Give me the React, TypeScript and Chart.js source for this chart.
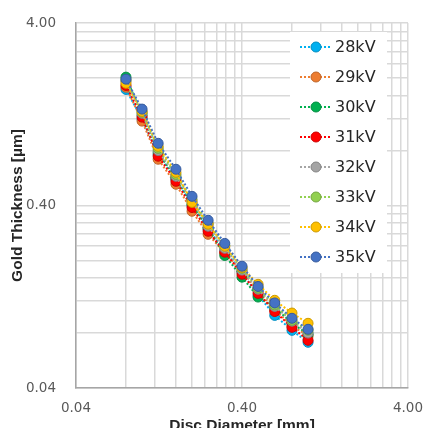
import React, { useEffect, useRef } from "react";
import { Chart, registerables } from "chart.js";

Chart.register(...registerables);

// Disc diameter [mm]
const diameters = [0.08, 0.1, 0.125, 0.16, 0.2, 0.25, 0.315, 0.4, 0.5, 0.63, 0.8, 1.0];

const seriesLabels = ["28kV", "29kV", "30kV", "31kV", "32kV", "33kV", "34kV", "35kV"];
const seriesColors = ["#00B0F0", "#ED7D31", "#00B050", "#FF0000", "#A5A5A5", "#92D050", "#FFC000", "#4472C4"];

// Gold thickness [µm]
const kv28 = [1.73, 1.19, 0.76, 0.557, 0.4, 0.296, 0.227, 0.172, 0.129, 0.1, 0.0828, 0.0712];
const kv29 = [1.78, 1.16, 0.717, 0.523, 0.372, 0.278, 0.219, 0.175, 0.136, 0.107, 0.088, 0.077];
const kv30 = [2.02, 1.25, 0.78, 0.564, 0.406, 0.3, 0.213, 0.162, 0.126, 0.11, 0.091, 0.0787];
const kv31 = [1.82, 1.22, 0.745, 0.543, 0.39, 0.289, 0.222, 0.168, 0.132, 0.105, 0.086, 0.073];
const kv32 = [1.92, 1.28, 0.8, 0.578, 0.421, 0.308, 0.233, 0.177, 0.139, 0.112, 0.093, 0.08];
const kv33 = [1.95, 1.3, 0.823, 0.592, 0.432, 0.32, 0.242, 0.181, 0.141, 0.114, 0.094, 0.083];
const kv34 = [1.87, 1.31, 0.844, 0.608, 0.416, 0.316, 0.239, 0.183, 0.148, 0.121, 0.103, 0.0905];
const kv35 = [1.97, 1.35, 0.877, 0.632, 0.449, 0.332, 0.248, 0.186, 0.144, 0.117, 0.0964, 0.0839];

const seriesValues = [kv28, kv29, kv30, kv31, kv32, kv33, kv34, kv35];

// Axis ticks (log scale, gridlines at every multiple within the decade)
const gridTicks = [0.04, 0.08, 0.12, 0.16, 0.2, 0.24, 0.28, 0.32, 0.36, 0.4, 0.8, 1.2, 1.6, 2.0, 2.4, 2.8, 3.2, 3.6, 4.0];
const labelTicks = [0.04, 0.4, 4.0];

function darker(hex: string, f: number) {
  const n = parseInt(hex.slice(1), 16);
  const r = Math.round(((n >> 16) & 255) * f);
  const g = Math.round(((n >> 8) & 255) * f);
  const b = Math.round((n & 255) * f);
  return `rgb(${r},${g},${b})`;
}

const legendPlugin = {
  id: "insideLegend",
  afterDraw(chart: any) {
    const ctx = chart.ctx;
    ctx.save();
    const bx = 290, by = 32, bw = 97, bh = 241;
    ctx.fillStyle = "#ffffff";
    ctx.fillRect(bx, by, bw, bh);
    seriesLabels.forEach((lab, i) => {
      const cy = 47 + i * 30;
      const col = seriesColors[i];
      ctx.strokeStyle = col;
      ctx.lineWidth = 2;
      ctx.setLineDash([2, 2]);
      ctx.beginPath();
      ctx.moveTo(300, cy);
      ctx.lineTo(331, cy);
      ctx.stroke();
      ctx.setLineDash([]);
      ctx.beginPath();
      ctx.arc(316, cy, 5, 0, Math.PI * 2);
      ctx.fillStyle = col;
      ctx.fill();
      ctx.strokeStyle = darker(col, 0.8);
      ctx.lineWidth = 1;
      ctx.stroke();
      ctx.fillStyle = "#262626";
      ctx.font = "16px 'DejaVu Sans'";
      ctx.textAlign = "left";
      ctx.textBaseline = "middle";
      ctx.fillText(lab, 335, cy + 1);
    });
    ctx.restore();
  },
};

function setTicks(scale: any) {
  scale.ticks = gridTicks.map((v) => ({ value: v }));
}

function tickLabel(value: any) {
  const v = Number(value);
  return labelTicks.some((t) => Math.abs(t - v) < 1e-9) ? v.toFixed(2) : "";
}

export default function App() {
  const ref = useRef<HTMLCanvasElement | null>(null);
  useEffect(() => {
    if (!ref.current) return;
    const datasets = seriesLabels.map((lab, i) => ({
      label: lab,
      data: diameters.map((d, j) => ({ x: d, y: seriesValues[i][j] })),
      showLine: true,
      borderColor: seriesColors[i],
      borderWidth: 2,
      borderDash: [2, 2],
      pointRadius: 5,
      pointBackgroundColor: seriesColors[i],
      pointBorderColor: darker(seriesColors[i], 0.8),
      pointBorderWidth: 1,
      order: seriesLabels.length - 1 - i,
    }));
    const chart = new Chart(ref.current, {
      type: "scatter",
      data: { datasets },
      plugins: [legendPlugin],
      options: {
        responsive: false,
        animation: false,
        layout: { padding: { top: 23, right: 17, left: 0, bottom: 0 } },
        plugins: { legend: { display: false }, tooltip: { enabled: false } },
        scales: {
          x: {
            type: "logarithmic",
            min: 0.04,
            max: 4,
            afterBuildTicks: setTicks,
            afterFit: (s: any) => {
              s.height = 40;
              s.paddingLeft = 0;
              s.paddingRight = 0;
            },
            border: { color: "#a6a6a6", width: 1.5 },
            grid: { color: "#d9d9d9", lineWidth: 1.5, drawTicks: false },
            ticks: {
              autoSkip: false,
              maxRotation: 0,
              padding: 12,
              color: "#595959",
              font: { family: "'DejaVu Sans'", size: 13.5 },
              callback: tickLabel,
            },
            title: {
              display: true,
              text: "Disc Diameter [mm]",
              color: "#262626",
              font: { family: "'Liberation Sans'", size: 15.5, weight: "bold" },
              padding: { top: 0, bottom: -7 },
            },
          },
          y: {
            type: "logarithmic",
            min: 0.04,
            max: 4,
            afterBuildTicks: setTicks,
            afterFit: (s: any) => {
              s.width = 76;
              s.paddingTop = 0;
              s.paddingBottom = 0;
            },
            border: { color: "#a6a6a6", width: 1.5 },
            grid: { color: "#d9d9d9", lineWidth: 1.5, drawTicks: false },
            ticks: {
              autoSkip: false,
              padding: 20,
              color: "#595959",
              font: { family: "'DejaVu Sans'", size: 13.5 },
              callback: tickLabel,
            },
            title: {
              display: true,
              text: "Gold Thickness [µm]",
              color: "#262626",
              font: { family: "'Liberation Sans'", size: 15.5, weight: "bold" },
              padding: { top: 8, bottom: 0 },
            },
          },
        },
      },
    } as any);
    return () => chart.destroy();
  }, []);
  return (
    <div style={{ position: "absolute", left: 0, top: 0, width: 425, height: 428, background: "#fff" }}>
      <canvas ref={ref} width={425} height={428} style={{ width: 425, height: 428, display: "block" }} />
    </div>
  );
}
